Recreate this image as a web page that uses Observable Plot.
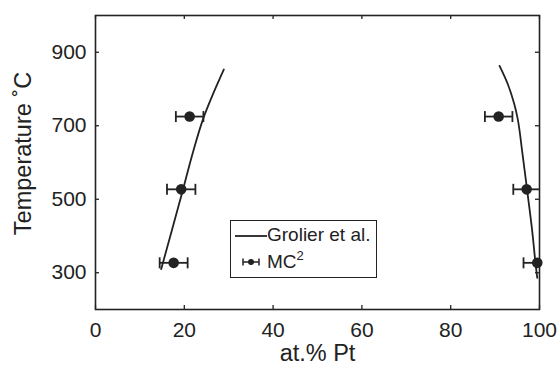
<!DOCTYPE html>
<html>
<head>
<meta charset="utf-8">
<script src="https://cdn.jsdelivr.net/npm/d3@7"></script>
<script src="https://cdn.jsdelivr.net/npm/@observablehq/plot@0.6"></script>
<style>
  body { margin: 0; background: #fff; }
  #wrap { position: relative; width: 560px; height: 372px; font-family: "Liberation Sans", Arial, sans-serif; }
  #legend { position: absolute; left: 230px; top: 220px; width: 147px; height: 58px; box-sizing: border-box; border: 1.5px solid #222; background: #fff; font-size: 19px; color: #222; }
  #legend .lbl { position: absolute; line-height: 20px; white-space: nowrap; }
  #legend svg { position: absolute; }
  sup { font-size: 13px; vertical-align: 8px; line-height: 0; }
</style>
</head>
<body>
<div id="wrap"></div>
<script>
// Grolier et al. curves (at.% Pt, temperature °C)
const grolierLeftX = [14.8, 17.3, 19.7, 22.0, 24.4, 26.6, 28.9];
const grolierLeftT = [310, 420, 526, 630, 724, 790, 853];
const grolierRightX = [99.5, 99.3, 98.3, 97.2, 96.1, 95.0, 94.3, 92.8, 91.0];
const grolierRightT = [286, 305, 420, 526, 630, 724, 760, 815, 863];
// MC² points with horizontal error bars
const mcX = [21.2, 19.3, 17.6, 90.8, 97.1, 99.5];
const mcT = [725, 527, 327, 725, 527, 327];
const mcErr = [3.1, 3.2, 3.15, 3.1, 3.0, 3.1];
// ticks
const xTicks = [0, 20, 40, 60, 80, 100];
const yTicks = [300, 500, 700, 900];

const left = grolierLeftX.map((x, i) => ({x, t: grolierLeftT[i]}));
const right = grolierRightX.map((x, i) => ({x, t: grolierRightT[i]}));
const mc = mcX.map((x, i) => ({x, t: mcT[i], e: mcErr[i]}));

const vbar = {draw(ctx, size) { const h = Math.sqrt(size / Math.PI); ctx.moveTo(0, -h); ctx.lineTo(0, h); }};
const ink = "#222";
const W = 560, H = 372, mL = 95, mR = 21, mT = 15, mB = 63;
const innerH = H - mT - mB, innerW = W - mL - mR;

const chart = Plot.plot({
  width: W, height: H,
  marginLeft: mL, marginRight: mR, marginTop: mT, marginBottom: mB,
  style: {fontFamily: "'Liberation Sans', Arial, sans-serif", fontSize: "21px", color: ink, background: "#fff", overflow: "visible"},
  x: {domain: [0, 100]},
  y: {domain: [200, 1000]},
  marks: [
    // inward ticks on all four sides
    Plot.tickX(xTicks, {x: d => d, insetTop: innerH - 4, stroke: ink, strokeWidth: 1.3}),
    Plot.tickX(xTicks, {x: d => d, insetBottom: innerH - 4, stroke: ink, strokeWidth: 1.3}),
    Plot.tickY(yTicks, {y: d => d, insetRight: innerW - 4, stroke: ink, strokeWidth: 1.3}),
    Plot.tickY(yTicks, {y: d => d, insetLeft: innerW - 4, stroke: ink, strokeWidth: 1.3}),
    Plot.frame({stroke: ink, strokeWidth: 1.6}),
    Plot.axisX(xTicks, {tickSize: 0, tickPadding: 13, fontSize: 21, label: null, color: ink}),
    Plot.axisY(yTicks, {tickSize: 0, tickPadding: 9, fontSize: 21, label: null, color: ink}),
    Plot.text(["at.% Pt"], {frameAnchor: "bottom", dy: 51, fontSize: 23.5, fill: ink}),
    Plot.text(["Temperature \u02DAC"], {frameAnchor: "left", textAnchor: "middle", dx: -72, dy: -9, rotate: -90, fontSize: 23.5, fill: ink}),
    // Grolier curves
    Plot.line(left, {x: "x", y: "t", stroke: ink, strokeWidth: 1.8, curve: "monotone-y"}),
    Plot.line(right, {x: "x", y: "t", stroke: ink, strokeWidth: 1.8, curve: "monotone-y"}),
    // error bars
    Plot.ruleY(mc, {y: "t", x1: d => d.x - d.e, x2: d => d.x + d.e, stroke: ink, strokeWidth: 1.8, clip: true}),
    Plot.dot(mc, {x: d => d.x - d.e, y: "t", symbol: vbar, r: 5.5, stroke: ink, strokeWidth: 1.8, clip: true}),
    Plot.dot(mc, {x: d => d.x + d.e, y: "t", symbol: vbar, r: 5.5, stroke: ink, strokeWidth: 1.8, clip: true}),
    Plot.dot(mc, {x: "x", y: "t", r: 5.3, fill: ink, stroke: "none"})
  ]
});
const wrap = document.getElementById("wrap");
wrap.appendChild(chart);

const legend = document.createElement("div");
legend.id = "legend";
legend.innerHTML = `
  <svg style="left:3px;top:8px" width="34" height="16"><line x1="1" y1="7" x2="33" y2="7" stroke="${ink}" stroke-width="1.8"/></svg>
  <span class="lbl" style="left:36px;top:4px">Grolier et al.</span>
  <svg style="left:9px;top:33px" width="22" height="16">
    <line x1="3" y1="8" x2="19" y2="8" stroke="${ink}" stroke-width="1.5"/>
    <line x1="3" y1="4.5" x2="3" y2="11.5" stroke="${ink}" stroke-width="1.5"/>
    <line x1="19" y1="4.5" x2="19" y2="11.5" stroke="${ink}" stroke-width="1.5"/>
    <circle cx="11" cy="8" r="3" fill="${ink}"/>
  </svg>
  <span class="lbl" style="left:36px;top:31px">MC<sup>2</sup></span>`;
wrap.appendChild(legend);
</script>
</body>
</html>
